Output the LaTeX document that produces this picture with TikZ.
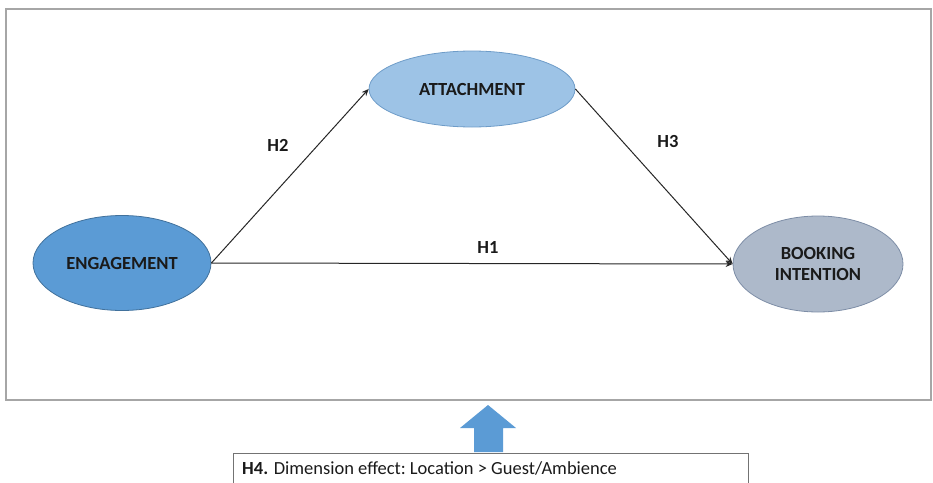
\documentclass[tikz,border=0pt]{standalone}
\usepackage{fontspec}
\setmainfont{Carlito}
\usetikzlibrary{arrows.meta,shapes.geometric}
\definecolor{engfill}{HTML}{5B9BD5}
\definecolor{engdraw}{HTML}{41719C}
\definecolor{attfill}{HTML}{9DC3E6}
\definecolor{attdraw}{HTML}{6E9CC8}
\definecolor{bokfill}{HTML}{ADB9CA}
\definecolor{bokdraw}{HTML}{7D8DA6}
\definecolor{framegray}{HTML}{A6A6A6}
\definecolor{txt}{HTML}{1A1A1A}
\tikzset{
  construct/.style={ellipse, draw, line width=0.8pt, inner sep=0pt, text=txt,
    font=\fontsize{18.5}{21}\selectfont\bfseries, align=center},
  path/.style={draw=black!85, line width=1pt, -{Stealth[length=7pt,width=6pt]}},
  hlabel/.style={font=\fontsize{18.5}{21}\selectfont\bfseries, text=txt}
}
\begin{document}
\begin{tikzpicture}[x=1pt,y=-1pt]
\useasboundingbox (0,0) rectangle (933,482);
\clip (0,0) rectangle (933,482);
\draw[framegray, line width=2pt] (6,9) rectangle (931,400);
\node[construct, fill=engfill, draw=engdraw, minimum width=178pt, minimum height=95pt] (eng) at (122,263) {ENGAGEMENT};
\node[construct, fill=attfill, draw=attdraw, minimum width=206pt, minimum height=76pt] (att) at (472,89) {ATTACHMENT};
\node[construct, fill=bokfill, draw=bokdraw, minimum width=170pt, minimum height=96pt] (bok) at (818,264) {BOOKING\\INTENTION};
\draw[path] (eng.east) -- (att.west);
\draw[path] (att.east) -- (bok.west);
\draw[path] (eng.east) -- (bok.west);
\node[hlabel] (h2) at (278,145) {H2};
\node[hlabel] (h3) at (668,141) {H3};
\node[hlabel] (h1) at (488,247) {H1};
\fill[engfill] (488,405) -- (516,428) -- (503,428) -- (503,452) -- (474,452) -- (474,428) -- (460,428) -- cycle;
\draw[black!55, line width=1pt] (233,495) -- (233,453) -- (748,453) -- (748,495);
\node[anchor=west, inner sep=0pt, text=txt, font=\fontsize{18.5}{21}\selectfont] (h4) at (242,468) {\textbf{H4.} Dimension effect:\ Location > Guest/Ambience};
\end{tikzpicture}
\end{document}
